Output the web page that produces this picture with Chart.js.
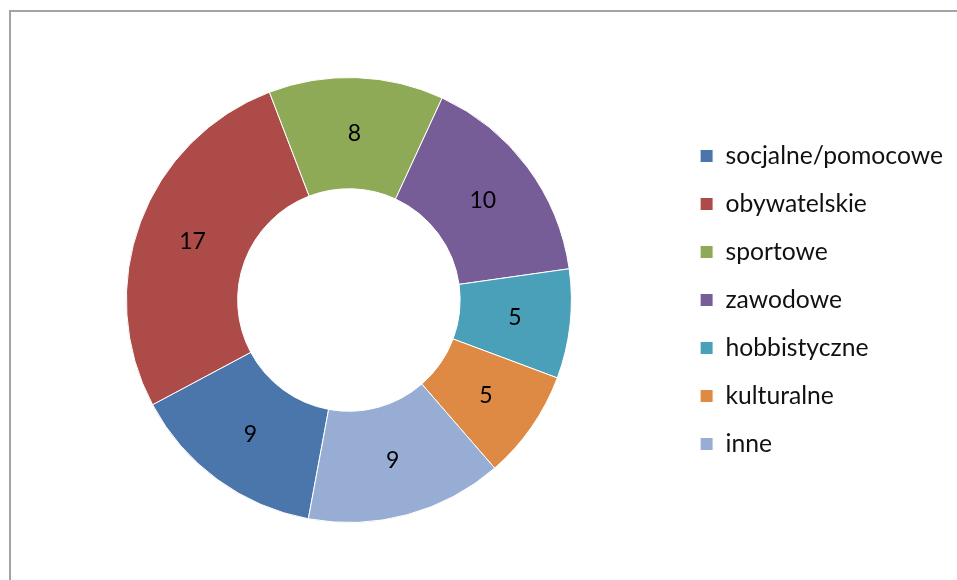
<!DOCTYPE html>
<html>
<head>
<meta charset="utf-8">
<script src="https://cdn.jsdelivr.net/npm/chart.js@4"></script>
<style>
  html, body { margin: 0; padding: 0; background: #fff; }
  #wrap { position: relative; width: 957px; height: 580px; overflow: hidden; }
  #frame { position: absolute; left: 9px; top: 10px; width: 960px; height: 590px;
    border-top: 2px solid #a3a3a3; border-left: 2px solid #a3a3a3; }
  #chart { position: absolute; left: 0; top: 0; }
</style>
</head>
<body>
<div id="wrap">
  <div id="frame"></div>
  <canvas id="chart" width="957" height="580"></canvas>
</div>
<script>
const categories = ["socjalne/pomocowe", "obywatelskie", "sportowe", "zawodowe", "hobbistyczne", "kulturalne", "inne"];
const values = [9, 17, 8, 10, 5, 5, 9];
const sliceColors = ["#4a76ac", "#ac4b47", "#8eaa56", "#775d98", "#4aa0b8", "#de8a44", "#97add3"];

// liczby na wycinkach
const sliceLabels = {
  id: "sliceLabels",
  afterDatasetsDraw(chart) {
    const ctx = chart.ctx;
    const meta = chart.getDatasetMeta(0);
    ctx.save();
    ctx.font = "23px Lato";
    ctx.fillStyle = "#000";
    ctx.textAlign = "center";
    ctx.textBaseline = "middle";
    meta.data.forEach((arc, i) => {
      const pos = arc.tooltipPosition();
      ctx.fillText(String(chart.data.datasets[0].data[i]), pos.x, pos.y);
    });
    ctx.restore();
  }
};

new Chart(document.getElementById("chart"), {
  type: "doughnut",
  data: {
    labels: categories,
    datasets: [{
      data: values,
      backgroundColor: sliceColors,
      borderColor: "#ffffff",
      borderWidth: 1,
      hoverOffset: 0
    }]
  },
  options: {
    responsive: false,
    animation: false,
    cutout: "50%",
    rotation: 190.5,
    layout: { padding: { top: 77, bottom: 57, left: 21, right: 4 } },
    plugins: {
      tooltip: { enabled: false },
      legend: {
        position: "right",
        labels: {
          boxWidth: 13,
          boxHeight: 13,
          padding: 23.3,
          color: "#111",
          font: { family: "Lato", size: 24.7 }
        }
      }
    }
  },
  plugins: [sliceLabels]
});
</script>
</body>
</html>
